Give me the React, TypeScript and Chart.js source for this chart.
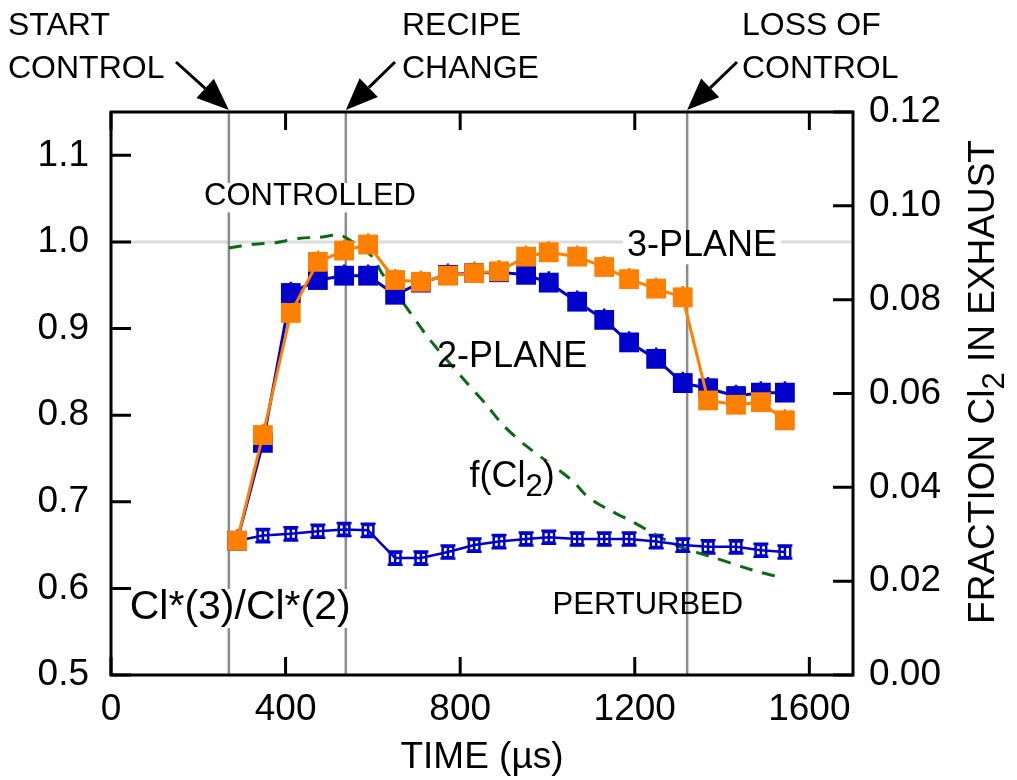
import React, { useEffect, useRef } from 'react';
import { Chart, registerables } from 'chart.js';

Chart.register(...registerables);

// ---------- DATA ----------
const timeUs = [289, 348, 412, 474, 534, 589, 651, 710, 772, 832, 889, 951, 1003, 1068, 1130, 1187, 1249, 1310, 1368, 1432, 1489, 1544];
const threePlane = [0.655, 0.777, 0.918, 0.977, 0.990, 0.997, 0.956, 0.954, 0.961, 0.964, 0.966, 0.983, 0.988, 0.983, 0.971, 0.957, 0.946, 0.936, 0.817, 0.812, 0.815, 0.794];
const twoPlane = [0.655, 0.768, 0.941, 0.956, 0.961, 0.961, 0.939, 0.953, 0.962, 0.964, 0.965, 0.962, 0.953, 0.931, 0.910, 0.884, 0.865, 0.837, 0.831, 0.822, 0.826, 0.826];
const clRatio = [0.655, 0.661, 0.663, 0.666, 0.668, 0.667, 0.635, 0.635, 0.642, 0.650, 0.654, 0.657, 0.659, 0.657, 0.657, 0.657, 0.654, 0.650, 0.648, 0.648, 0.644, 0.642];

const fCl2Time = [270, 325, 380, 433, 479, 525, 564, 600, 621, 685, 731, 816, 861, 898, 949, 1056, 1093, 1143, 1196, 1242, 1304, 1379, 1448, 1487, 1540];
const fCl2 = [0.0910, 0.0918, 0.0922, 0.0931, 0.0933, 0.0937, 0.0916, 0.0890, 0.0856, 0.0773, 0.0714, 0.0622, 0.0575, 0.0533, 0.0490, 0.0415, 0.0379, 0.0351, 0.0326, 0.0302, 0.0273, 0.0251, 0.0230, 0.0219, 0.0207];

const xTicks = [0, 400, 800, 1200, 1600];
const yTicks = [0.5, 0.6, 0.7, 0.8, 0.9, 1.0, 1.1];
const y2Ticks = [0, 0.02, 0.04, 0.06, 0.08, 0.10, 0.12];

const eventTimes = [270, 538, 1320];
const eventLabels = [['START', 'CONTROL'], ['RECIPE', 'CHANGE'], ['LOSS OF', 'CONTROL']];
const referenceLevel = 1.0;

// ---------- STYLE ----------
const FONT = '"Liberation Sans", Arial, Helvetica, sans-serif';
const BLUE = '#0000cc';
const ORANGE = '#ff8000';
const GREEN = '#0b6b12';

type Part = { t: string; sub?: boolean };

function partsWidth(ctx: CanvasRenderingContext2D, parts: Part[], size: number) {
  let w = 0;
  for (const p of parts) {
    ctx.font = `${p.sub ? Math.round(size * 0.85) : size}px ${FONT}`;
    w += ctx.measureText(p.t).width;
  }
  return w;
}

function drawParts(ctx: CanvasRenderingContext2D, parts: Part[], size: number, cx: number, cy: number, box = false) {
  const w = partsWidth(ctx, parts, size);
  let x = cx - w / 2;
  if (box) {
    ctx.fillStyle = '#ffffff';
    ctx.fillRect(x - 4, cy - size * 0.45, w + 8, size * 0.95);
  }
  ctx.fillStyle = '#000';
  ctx.textBaseline = 'middle';
  ctx.textAlign = 'left';
  for (const p of parts) {
    const s = p.sub ? Math.round(size * 0.85) : size;
    ctx.font = `${s}px ${FONT}`;
    ctx.fillText(p.t, x, cy + (p.sub ? size * 0.3 : 0));
    x += ctx.measureText(p.t).width;
  }
}

function arrow(ctx: CanvasRenderingContext2D, x0: number, y0: number, x1: number, y1: number) {
  const head = 32, hw = 13;
  const a = Math.atan2(y1 - y0, x1 - x0);
  const bx = x1 - head * Math.cos(a), by = y1 - head * Math.sin(a);
  ctx.strokeStyle = '#000';
  ctx.fillStyle = '#000';
  ctx.lineWidth = 3;
  ctx.beginPath();
  ctx.moveTo(x0, y0);
  ctx.lineTo(bx, by);
  ctx.stroke();
  ctx.beginPath();
  ctx.moveTo(x1, y1);
  ctx.lineTo(bx + hw * Math.sin(a), by - hw * Math.cos(a));
  ctx.lineTo(bx - hw * Math.sin(a), by + hw * Math.cos(a));
  ctx.closePath();
  ctx.fill();
}

const overlay = {
  id: 'overlay',
  beforeDatasetsDraw(chart: any) {
    const { ctx, chartArea: a, scales } = chart;
    const x = scales.x, y = scales.y;
    ctx.save();
    // reference line at 1.0
    const yr = y.getPixelForValue(referenceLevel);
    ctx.strokeStyle = '#dcdcdc';
    ctx.lineWidth = 3;
    ctx.beginPath();
    ctx.moveTo(a.left, yr);
    ctx.lineTo(a.right, yr);
    ctx.stroke();
    // event lines
    ctx.strokeStyle = '#8c8c8c';
    ctx.lineWidth = 2.5;
    for (const t of eventTimes) {
      const px = x.getPixelForValue(t);
      ctx.beginPath();
      ctx.moveTo(px, a.top);
      ctx.lineTo(px, a.bottom);
      ctx.stroke();
    }
    // error bars of filled squares (upper)
    const drawUp = (vals: number[], color: string) => {
      ctx.strokeStyle = color;
      ctx.lineWidth = 2.5;
      vals.forEach((v, i) => {
        const px = x.getPixelForValue(timeUs[i]);
        const py = y.getPixelForValue(v);
        const top = y.getPixelForValue(v + 0.013);
        ctx.beginPath();
        ctx.moveTo(px, py);
        ctx.lineTo(px, top);
        ctx.moveTo(px - 8, top + 3);
        ctx.lineTo(px + 8, top + 3);
        ctx.stroke();
      });
    };
    drawUp(twoPlane, BLUE);
    drawUp(threePlane, ORANGE);
    // error bars of ratio
    ctx.strokeStyle = BLUE;
    ctx.lineWidth = 2.5;
    clRatio.forEach((v, i) => {
      if (i === 0) return;
      const px = x.getPixelForValue(timeUs[i]);
      const t = y.getPixelForValue(v + 0.0076);
      const b = y.getPixelForValue(v - 0.0076);
      ctx.beginPath();
      ctx.moveTo(px, t);
      ctx.lineTo(px, b);
      ctx.moveTo(px - 7.5, t);
      ctx.lineTo(px + 7.5, t);
      ctx.moveTo(px - 7.5, b);
      ctx.lineTo(px + 7.5, b);
      ctx.stroke();
    });
    ctx.restore();
  },
  afterDatasetsDraw(chart: any) {
    const { ctx, scales } = chart;
    const x = scales.x, y = scales.y;
    ctx.save();
    const P = (t: number, v: number) => [x.getPixelForValue(t), y.getPixelForValue(v)];
    let p = P(456, 1.052);
    drawParts(ctx, [{ t: 'CONTROLLED' }], 31, p[0], p[1], true);
    p = P(1354, 0.995);
    drawParts(ctx, [{ t: '3-PLANE' }], 36, p[0], p[1], true);
    p = P(919, 0.867);
    drawParts(ctx, [{ t: '2-PLANE' }], 36, p[0], p[1], false);
    p = P(919, 0.729);
    drawParts(ctx, [{ t: 'f(Cl' }, { t: '2', sub: true }, { t: ')' }], 36, p[0], p[1], true);
    p = P(296, 0.578);
    drawParts(ctx, [{ t: 'Cl*(3)/Cl*(2)' }], 41, p[0], p[1], true);
    p = P(1230, 0.580);
    drawParts(ctx, [{ t: 'PERTURBED' }], 31, p[0], p[1], false);
    ctx.restore();
  },
  afterDraw(chart: any) {
    const { ctx, chartArea: a, scales } = chart;
    const x = scales.x, y = scales.y, y2 = scales.y2;
    ctx.save();
    // frame
    ctx.strokeStyle = '#000';
    ctx.lineWidth = 3;
    ctx.strokeRect(a.left, a.top, a.right - a.left, a.bottom - a.top);
    // inward ticks
    ctx.beginPath();
    for (const t of xTicks) {
      const px = x.getPixelForValue(t);
      ctx.moveTo(px, a.bottom);
      ctx.lineTo(px, a.bottom - 18);
      ctx.moveTo(px, a.top);
      ctx.lineTo(px, a.top + 18);
    }
    for (const t of yTicks) {
      const py = y.getPixelForValue(t);
      ctx.moveTo(a.left, py);
      ctx.lineTo(a.left + 20, py);
    }
    for (const t of y2Ticks) {
      const py = y2.getPixelForValue(t);
      ctx.moveTo(a.right, py);
      ctx.lineTo(a.right - 20, py);
    }
    ctx.stroke();
    // event annotations with arrows
    ctx.fillStyle = '#000';
    ctx.font = `32px ${FONT}`;
    ctx.textAlign = 'left';
    ctx.textBaseline = 'alphabetic';
    const textLeft = [8, 402, 742];
    const arrowStart = [[176, 62], [395, 62], [737, 62]];
    eventLabels.forEach((lines, i) => {
      ctx.fillText(lines[0], textLeft[i], 35);
      ctx.fillText(lines[1], textLeft[i], 78);
      const tip = x.getPixelForValue(eventTimes[i]);
      arrow(ctx, arrowStart[i][0], arrowStart[i][1], tip, a.top - 2);
    });
    // x-axis title
    drawParts(ctx, [{ t: 'TIME (µs)' }], 37, (a.left + a.right) / 2, 758);
    // right axis title
    ctx.translate(984, 382);
    ctx.rotate(-Math.PI / 2);
    drawParts(ctx, [{ t: 'FRACTION Cl' }, { t: '2', sub: true }, { t: ' IN EXHAUST' }], 37, 0, 0);
    ctx.restore();
  },
};

export default function App() {
  const ref = useRef<HTMLCanvasElement>(null);
  useEffect(() => {
    if (!ref.current) return;
    const tickFont = { family: FONT, size: 37 };
    const chart = new Chart(ref.current, {
      type: 'line',
      data: {
        datasets: [
          {
            label: '3-PLANE',
            data: timeUs.map((t, i) => ({ x: t, y: threePlane[i] })),
            borderColor: ORANGE,
            backgroundColor: ORANGE,
            borderWidth: 3,
            pointStyle: 'rect',
            pointRadius: 14,
            pointBorderWidth: 0,
            yAxisID: 'y',
            order: 0,
          },
          {
            label: '2-PLANE',
            data: timeUs.map((t, i) => ({ x: t, y: twoPlane[i] })),
            borderColor: BLUE,
            backgroundColor: BLUE,
            borderWidth: 3,
            pointStyle: 'rect',
            pointRadius: 14,
            pointBorderWidth: 0,
            yAxisID: 'y',
            order: 1,
          },
          {
            label: 'Cl*(3)/Cl*(2)',
            data: timeUs.map((t, i) => ({ x: t, y: clRatio[i] })),
            borderColor: BLUE,
            backgroundColor: 'rgba(0,0,0,0)',
            borderWidth: 2.5,
            pointStyle: 'rect',
            pointRadius: 7.5,
            pointBorderWidth: 2.5,
            yAxisID: 'y',
            order: 2,
          },
          {
            label: 'f(Cl2)',
            data: fCl2Time.map((t, i) => ({ x: t, y: fCl2[i] })),
            borderColor: GREEN,
            borderWidth: 3,
            borderDash: [13, 10],
            pointRadius: 0,
            tension: 0.3,
            yAxisID: 'y2',
            order: 3,
          },
        ],
      },
      options: {
        responsive: false,
        animation: false,
        events: [],
        layout: { padding: { top: 112, left: 0, right: 0, bottom: 0 } },
        plugins: { legend: { display: false }, tooltip: { enabled: false } },
        scales: {
          x: {
            type: 'linear',
            min: 0,
            max: 1700,
            afterBuildTicks: (s: any) => { s.ticks = xTicks.map((v) => ({ value: v })); },
            afterFit: (s: any) => { s.height = 105; },
            grid: { display: false, drawTicks: false },
            border: { display: false },
            ticks: { font: tickFont, color: '#000', padding: 13, maxRotation: 0, autoSkip: false, callback: (v: any) => String(v) },
          },
          y: {
            type: 'linear',
            position: 'left',
            min: 0.5,
            max: 1.15,
            afterBuildTicks: (s: any) => { s.ticks = yTicks.map((v) => ({ value: v })); },
            afterFit: (s: any) => { s.width = 111; },
            grid: { display: false, drawTicks: false },
            border: { display: false },
            ticks: { font: tickFont, color: '#000', padding: 22, autoSkip: false, callback: (v: any) => Number(v).toFixed(1) },
          },
          y2: {
            type: 'linear',
            position: 'right',
            min: 0,
            max: 0.12,
            afterBuildTicks: (s: any) => { s.ticks = y2Ticks.map((v) => ({ value: v })); },
            afterFit: (s: any) => { s.width = 164; },
            grid: { display: false, drawTicks: false },
            border: { display: false },
            ticks: { font: tickFont, color: '#000', padding: 16, autoSkip: false, callback: (v: any) => Number(v).toFixed(2) },
          },
        },
      },
      plugins: [overlay],
    } as any);
    return () => chart.destroy();
  }, []);
  return (
    <div style={{ position: 'absolute', left: 0, top: 0, width: 1017, height: 780, background: '#fff' }}>
      <canvas ref={ref} width={1017} height={780} />
    </div>
  );
}
